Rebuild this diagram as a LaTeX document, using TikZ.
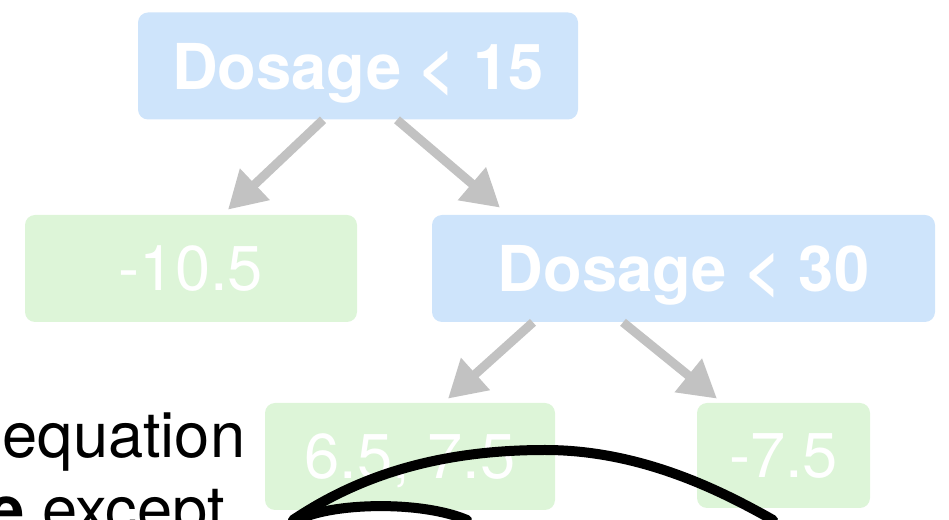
\documentclass[tikz,border=0pt]{standalone}
\usepackage{fontspec}
\setmainfont{TeX Gyre Heros}
\usetikzlibrary{arrows.meta}

\definecolor{splitblue}{RGB}{206,228,251}
\definecolor{leafgreen}{RGB}{221,245,216}
\definecolor{arrowgray}{RGB}{194,194,194}

\begin{document}
\begin{tikzpicture}[
  box/.style={rounded corners=0.2cm, inner sep=0pt, minimum height=2.14cm,
    text=white, text depth=0pt, font=\fontsize{36}{43}\selectfont},
  split/.style={box, fill=splitblue, font=\fontsize{36}{43}\selectfont\bfseries},
  leaf/.style={box, fill=leafgreen},
  arr/.style={-{Triangle[length=0.74cm, width=0.82cm]}, line width=0.18cm, draw=arrowgray},
  pen/.style={line width=0.2cm, line cap=round},
  words/.style={inner sep=0pt, anchor=base west, font=\fontsize{36}{43}\selectfont},
]
  \useasboundingbox (0,0) rectangle (18.98,-10.4);

  % Splits
  \node[split, minimum width=8.8cm] (dose15) at (7.16, -1.32) {Dosage < 15};
  \node[split, minimum width=10.06cm] (dose30) at (13.67, -5.37) {Dosage < 30};

  % Leaves
  \node[leaf, minimum width=6.64cm] (lowleaf) at (3.82, -5.37) {-10.5};
  \node[leaf, minimum width=5.8cm] (midleaf) at (8.2, -9.13) {6.5, 7.5};
  \node[leaf, minimum width=3.46cm, minimum height=2.1cm] (highleaf) at (15.67, -9.11) {-7.5};

  % Branches
  \draw[arr] ([xshift=-0.7cm]dose15.south) -- ([xshift=0.74cm, yshift=0.1cm]lowleaf.north);
  \draw[arr] ([xshift=0.78cm]dose15.south) -- ([xshift=-3.67cm, yshift=0.14cm]dose30.north);
  \draw[arr] ([xshift=-3.01cm]dose30.south) -- ([xshift=0.76cm, yshift=0.08cm]midleaf.north);
  \draw[arr] ([xshift=-1.21cm]dose30.south) -- ([xshift=-1.33cm, yshift=0.08cm]highleaf.north);

  % Text on the left
  \node[words] (eqn) at (0.04, -9.16) {equation};
  \node[words] (except) at (-0.22, -10.64) {\textbf{e} except};

  % Pen strokes
  \draw[pen] (5.86, -10.4) .. controls (7.2, -9.5) and (8.8, -9.0) .. (10.9, -9.0)
    .. controls (12.8, -9.0) and (14.4, -9.8) .. (15.46, -10.4);
  \draw[pen] (5.96, -10.4) .. controls (6.6, -10.06) and (8.4, -10.0) .. (9.34, -10.4);

\end{tikzpicture}
\end{document}
